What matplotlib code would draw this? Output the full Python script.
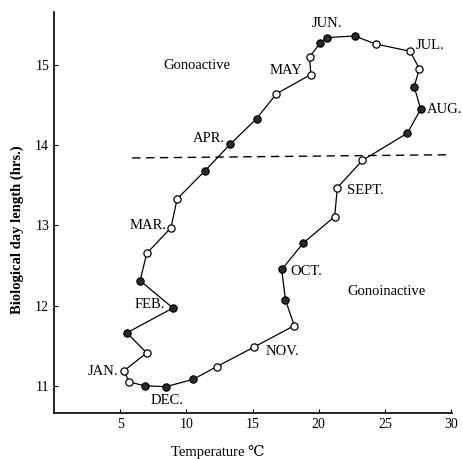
import matplotlib.pyplot as plt

plt.rcParams['font.family'] = ['Liberation Serif', 'DejaVu Serif']

# 10-day readings, Jan to Dec (closed loop)
temp = [5.3, 7.0, 5.5, 8.98, 6.5, 7.0,
        8.83, 9.3, 11.4, 13.3, 15.3, 16.8,
        19.4, 19.3, 20.1, 20.6, 22.7, 24.3,
        26.9, 27.6, 27.2, 27.7, 26.7, 23.3,
        21.4, 21.2, 18.83, 17.2, 17.48, 18.15,
        15.07, 12.3, 10.5, 8.45, 6.85, 5.65]
day_length = [11.19, 11.41, 11.66, 11.97, 12.31, 12.65,
              12.97, 13.33, 13.68, 14.01, 14.33, 14.64,
              14.88, 15.10, 15.27, 15.34, 15.36, 15.26,
              15.17, 14.95, 14.73, 14.45, 14.15, 13.81,
              13.47, 13.11, 12.78, 12.45, 12.07, 11.75,
              11.48, 11.24, 11.08, 10.99, 11.00, 11.05]
filled = [0, 0, 1, 1, 1, 0] * 6

months = ['JAN.', 'FEB.', 'MAR.', 'APR.', 'MAY', 'JUN.',
          'JUL.', 'AUG.', 'SEPT.', 'OCT.', 'NOV.', 'DEC.']
month_pos = [(4.85, 11.18, 'right'), (8.4, 12.01, 'right'), (8.5, 13.0, 'right'),
             (12.9, 14.08, 'right'), (18.76, 14.93, 'right'), (20.6, 15.52, 'center'),
             (27.3, 15.24, 'left'), (28.15, 14.45, 'left'), (22.1, 13.44, 'left'),
             (17.85, 12.43, 'left'), (16.0, 11.43, 'left'), (7.3, 10.82, 'left')]

threshold_x = [5.9, 29.7]
threshold_y = [13.84, 13.88]

fig = plt.figure(figsize=(4.62, 4.59), dpi=100)
ax = fig.add_axes([0.117, 0.100, 0.861, 0.874])

ax.plot(temp + temp[:1], day_length + day_length[:1], color='black', lw=0.9, zorder=2)
for x, y, f in zip(temp, day_length, filled):
    ax.plot(x, y, 'o', ms=5.2, mec='black', mew=0.9,
            mfc='#2a2a2a' if f else 'white', zorder=3)

ax.plot(threshold_x, threshold_y, color='black', lw=1.0, ls=(0, (6, 4)))

for name, (x, y, ha) in zip(months, month_pos):
    ax.text(x, y, name, ha=ha, va='center', fontsize=10.5)

ax.text(10.8, 14.99, 'Gonoactive', ha='center', va='center', fontsize=10.5)
ax.text(25.1, 12.17, 'Gonoinactive', ha='center', va='center', fontsize=10.5)

ax.set_xlim(0, 30.05)
ax.set_ylim(10.66, 15.66)
ax.set_xticks([5, 10, 15, 20, 25, 30])
ax.set_yticks([11, 12, 13, 14, 15])
ax.tick_params(labelsize=10, length=3, width=0.8, direction='in')
for s in ['top', 'right']:
    ax.spines[s].set_visible(False)
for s in ['left', 'bottom']:
    ax.spines[s].set_linewidth(1.2)

ax.set_xlabel('Temperature ℃', fontsize=10.5)
ax.set_ylabel('Biological day length (hrs.)', fontsize=10.5, fontweight='bold')
ax.xaxis.set_label_coords(0.412, -0.08)
ax.yaxis.set_label_coords(-0.075, 0.456)

fig.savefig('out.png', dpi=100)
